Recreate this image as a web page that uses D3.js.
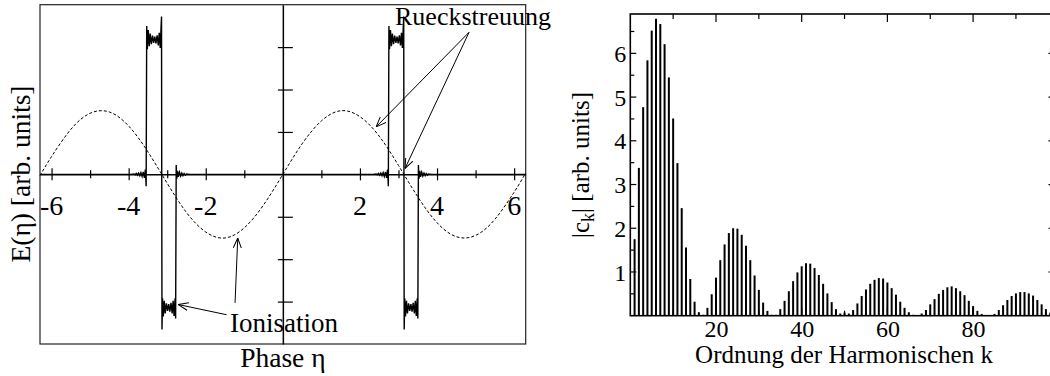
<!DOCTYPE html>
<html>
<head>
<meta charset="utf-8">
<script src="https://cdn.jsdelivr.net/npm/d3@7"></script>
<style>
  html, body { margin: 0; padding: 0; background: #fff; }
  svg { display: block; }
</style>
</head>
<body>
<svg id="chart" width="1050" height="376"></svg>
<script>
// ---- Left panel: driving field (dashed) and the emitted signal (solid) ----
const fieldPhase = [-6.3, -6, -5.5, -5, -4.5, -4, -3.5, -3, -2.5, -2, -1.5, -1, -0.5, 0,
                    0.5, 1, 1.5, 2, 2.5, 3, 3.5, 4, 4.5, 5, 5.5, 6, 6.3];
const fieldValue = [-0.03, 0.42, 1.06, 1.44, 1.47, 1.14, 0.53, -0.21, -0.90, -1.36, -1.50, -1.26, -0.72, 0,
                    0.72, 1.26, 1.50, 1.36, 0.90, 0.21, -0.53, -1.14, -1.47, -1.44, -1.06, -0.42, 0.03];

// one burst of the signal, as [phase offset from its centre, amplitude]
const pulseShape = [
  [-0.80, 0], [-0.72, 0.01], [-0.69, -0.01], [-0.66, 0.02], [-0.63, -0.02], [-0.60, 0.03], [-0.57, -0.03],
  [-0.54, 0.04], [-0.51, -0.05], [-0.48, 0.06], [-0.45, -0.08], [-0.425, 0.11], [-0.405, -0.28],
  [-0.39, 3.50], [-0.375, 2.95], [-0.35, 3.40], [-0.325, 3.02], [-0.30, 3.32], [-0.27, 3.07], [-0.24, 3.27],
  [-0.21, 3.10], [-0.18, 3.25], [-0.15, 3.09], [-0.12, 3.28], [-0.09, 3.04], [-0.065, 3.34], [-0.04, 2.98],
  [-0.02, 3.42], [-0.006, 3.72],
  [0.006, -3.66], [0.02, -2.92], [0.04, -3.35], [0.065, -2.98], [0.09, -3.28], [0.12, -3.04], [0.15, -3.22],
  [0.18, -3.06], [0.21, -3.24], [0.24, -3.03], [0.27, -3.28], [0.295, -2.98], [0.32, -3.34], [0.345, -2.92],
  [0.36, -3.40],
  [0.375, 0.22], [0.39, -0.10], [0.41, 0.08], [0.43, -0.06], [0.46, 0.05], [0.49, -0.04], [0.52, 0.03],
  [0.55, -0.03], [0.58, 0.02], [0.61, -0.02], [0.64, 0.01], [0.72, 0]
];
const pulseCentres = [-3.1416, 3.1416];
const phaseTicks = [-6, -5, -4, -3, -2, -1, 0, 1, 2, 3, 4, 5, 6];
const phaseLabels = [-6, -4, -2, 2, 4, 6];
const fieldTicks = [-3, -2, -1, 1, 2, 3];

// ---- Right panel: harmonic amplitudes |c_k|, k = 1..98 ----
const harmonicAmp = [
  1.75, 3.38, 4.77, 5.84, 6.52, 6.79, 6.67, 6.21, 5.45, 4.51,
  3.49, 2.46, 1.56, 0.84, 0.32, 0.08, 0.02, 0.18, 0.49, 0.87,
  1.27, 1.63, 1.89, 2.00, 1.99, 1.85, 1.60, 1.27, 0.92, 0.59,
  0.30, 0.11, 0.02, 0.02, 0.15, 0.34, 0.56, 0.79, 0.99, 1.13,
  1.20, 1.19, 1.09, 0.93, 0.73, 0.51, 0.31, 0.15, 0.05, 0.07,
  0.05, 0.13, 0.28, 0.45, 0.60, 0.73, 0.82, 0.86, 0.85, 0.76,
  0.63, 0.48, 0.32, 0.18, 0.08, 0.02, 0.01, 0.05, 0.13, 0.26,
  0.38, 0.50, 0.59, 0.65, 0.67, 0.63, 0.56, 0.47, 0.34, 0.22,
  0.11, 0.04, 0.01, 0.01, 0.04, 0.13, 0.24, 0.36, 0.45, 0.51,
  0.54, 0.54, 0.51, 0.46, 0.36, 0.26, 0.15, 0.07
];
const orderTicksMajor = [20, 40, 60, 80];
const orderTicksMinor = [10, 30, 50, 70, 90];
const ampTicksMajor = [1, 2, 3, 4, 5, 6];
const ampTicksMinor = [0.5, 1.5, 2.5, 3.5, 4.5, 5.5, 6.5];

const SERIF = "Liberation Serif";

const svg = d3.select("#chart");
const defs = svg.append("defs");
defs.append("marker")
  .attr("id", "head")
  .attr("viewBox", "0 0 10 10")
  .attr("refX", 10).attr("refY", 5)
  .attr("markerWidth", 10).attr("markerHeight", 10)
  .attr("markerUnits", "userSpaceOnUse")
  .attr("orient", "auto")
  .append("path")
  .attr("d", "M0,1 L10,5 L0,9")
  .attr("fill", "none").attr("stroke", "#000").attr("stroke-width", 1);

function label(g, x, y, size, str) {
  return g.append("text")
    .attr("x", x).attr("y", y)
    .attr("font-family", SERIF).attr("font-size", size)
    .attr("fill", "#000")
    .text(str);
}

// ================= Left panel =================
const L = { left: 40, right: 525.7, top: 4.7, bottom: 344 };
const x1 = d3.scaleLinear().domain([-6.3, 6.3]).range([L.left, L.right]);
const y1 = d3.scaleLinear().domain([-4, 4]).range([L.bottom, L.top]);
const gL = svg.append("g");

gL.append("rect")
  .attr("x", L.left).attr("y", L.top)
  .attr("width", L.right - L.left).attr("height", L.bottom - L.top)
  .attr("fill", "none").attr("stroke", "#222").attr("stroke-width", 1.2);

// axes through the origin
const xAxis = d3.axisBottom(x1).tickValues(phaseTicks).tickSize(0).tickFormat("");
const gx = gL.append("g").attr("transform", `translate(0,${y1(0)})`).call(xAxis);
gx.select(".domain").attr("stroke-width", 1.5);
gx.selectAll(".tick line")
  .attr("y1", d => (d % 2 === 0 ? -6 : -4))
  .attr("y2", d => (d % 2 === 0 ? 6 : 4))
  .attr("stroke-width", 1.2);

const yAxis = d3.axisLeft(y1).tickValues(fieldTicks).tickSize(0).tickFormat("");
const gy = gL.append("g").attr("transform", `translate(${x1(0)},0)`).call(yAxis);
gy.select(".domain").attr("stroke-width", 1.5);
gy.selectAll(".tick line").attr("x1", -5).attr("x2", 10).attr("stroke-width", 1.2);

gL.selectAll("text.xlab")
  .data(phaseLabels)
  .join("text")
  .attr("class", "xlab")
  .attr("x", d => x1(d))
  .attr("y", 215)
  .attr("text-anchor", "middle")
  .attr("font-family", SERIF)
  .attr("font-size", 28)
  .text(d => String(d));

// driving field
const fieldLine = d3.line().x(d => x1(d[0])).y(d => y1(d[1])).curve(d3.curveNatural);
gL.append("path")
  .attr("d", fieldLine(fieldPhase.map((p, i) => [p, fieldValue[i]])))
  .attr("fill", "none").attr("stroke", "#000").attr("stroke-width", 1)
  .attr("stroke-dasharray", "3,2");

// emitted signal: zero outside the bursts
const signalPts = [[-6.3, 0]];
pulseCentres.forEach(c => pulseShape.forEach(p => signalPts.push([c + p[0], p[1]])));
signalPts.push([6.3, 0]);
const sigLine = d3.line().x(d => x1(d[0])).y(d => y1(d[1]));
gL.append("path")
  .attr("d", sigLine(signalPts))
  .attr("fill", "none").attr("stroke", "#000").attr("stroke-width", 1.4)
  .attr("stroke-linejoin", "miter");

// annotations
function arrow(from, to) {
  gL.append("line")
    .attr("x1", x1(from[0])).attr("y1", y1(from[1]))
    .attr("x2", x1(to[0])).attr("y2", y1(to[1]))
    .attr("stroke", "#000").attr("stroke-width", 1)
    .attr("marker-end", "url(#head)");
}
arrow([-1.46, -3.31], [-2.71, -3.07]);
arrow([-1.24, -3.03], [-1.17, -1.50]);
arrow([4.83, 3.35], [2.42, 1.12]);
arrow([4.83, 3.35], [3.17, 0.14]);

label(gL, 230, 331.5, 27, "Ionisation");
label(gL, 395, 24.5, 26, "Rueckstreuung");
label(gL, (L.left + L.right) / 2, 367, 27.5, "Phase η").attr("text-anchor", "middle");
label(gL, 0, 0, 27.5, "E(η) [arb. units]")
  .attr("transform", `translate(30,174) rotate(-90)`)
  .attr("text-anchor", "middle");

// ================= Right panel =================
const R = { left: 630.3, right: 1054.5, top: 14, bottom: 315.7 };
const x2 = d3.scaleLinear().domain([0, 99]).range([R.left, R.right]);
const y2 = d3.scaleLinear().domain([0, 6.9]).range([R.bottom, R.top]);
const gR = svg.append("g");

gR.selectAll("rect.bar")
  .data(harmonicAmp)
  .join("rect")
  .attr("class", "bar")
  .attr("x", (d, i) => x2(i + 1) - 1)
  .attr("y", d => y2(d))
  .attr("width", 2)
  .attr("height", d => y2(0) - y2(d))
  .attr("fill", "#000");

// frame ticks, pointing inwards
const tickG = gR.append("g").attr("stroke", "#000").attr("stroke-width", 1.2);
[[orderTicksMajor, 8], [orderTicksMinor, 5]].forEach(([vals, len]) => {
  vals.forEach(v => {
    tickG.append("line").attr("x1", x2(v)).attr("x2", x2(v)).attr("y1", R.top).attr("y2", R.top + len);
    tickG.append("line").attr("x1", x2(v)).attr("x2", x2(v)).attr("y1", R.bottom).attr("y2", R.bottom - len);
  });
});
[[ampTicksMajor, 6], [ampTicksMinor, 4]].forEach(([vals, len]) => {
  vals.forEach(v => {
    tickG.append("line").attr("x1", R.left).attr("x2", R.left + len).attr("y1", y2(v)).attr("y2", y2(v));
    tickG.append("line").attr("x1", R.right).attr("x2", R.right - len).attr("y1", y2(v)).attr("y2", y2(v));
  });
});

gR.append("rect")
  .attr("x", R.left).attr("y", R.top)
  .attr("width", R.right - R.left).attr("height", R.bottom - R.top)
  .attr("fill", "none").attr("stroke", "#000").attr("stroke-width", 1.6);

const xAx2 = d3.axisBottom(x2).tickValues(orderTicksMajor).tickSize(0).tickPadding(0).tickFormat(d => String(d));
const gx2 = gR.append("g").attr("transform", `translate(0,${R.bottom})`).call(xAx2).attr("font-family", SERIF);
gx2.select(".domain").remove();
gx2.selectAll("text").attr("font-size", 24).attr("font-family", SERIF).attr("dy", null).attr("y", 21);

const yAx2 = d3.axisLeft(y2).tickValues(ampTicksMajor).tickSize(0).tickPadding(4).tickFormat(d => String(d));
const gy2 = gR.append("g").attr("transform", `translate(${R.left},0)`).call(yAx2).attr("font-family", SERIF);
gy2.select(".domain").remove();
gy2.selectAll("text").attr("font-size", 24).attr("font-family", SERIF).attr("dy", "0.34em");

label(gR, 844, 363, 25, "Ordnung der Harmonischen k").attr("text-anchor", "middle");

const yl = label(gR, 0, 0, 25, "")
  .attr("transform", `translate(589,165) rotate(-90)`)
  .attr("text-anchor", "middle");
yl.append("tspan").text("|c");
yl.append("tspan").attr("font-size", 18).attr("dy", 5).text("k");
yl.append("tspan").attr("dy", -5).text("| [arb. units]");
</script>
</body>
</html>
